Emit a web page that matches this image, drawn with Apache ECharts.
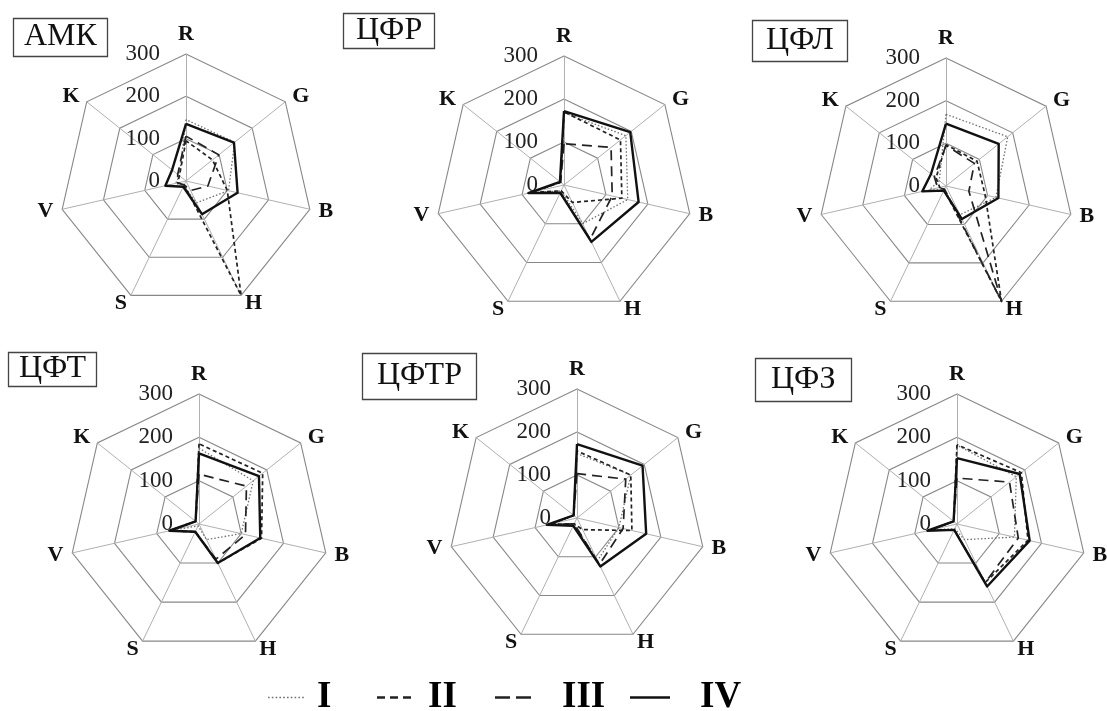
<!DOCTYPE html>
<html>
<head>
<meta charset="utf-8">
<script src="https://cdn.jsdelivr.net/npm/echarts@6/dist/echarts.min.js"></script>
<style>
  html, body { margin: 0; padding: 0; background: #fff; }
  #chart { width: 1107px; height: 711px; }
</style>
</head>
<body>
<div id="chart"></div>
<script>
// Colour-parameter axes, clockwise from the top
const axes = ['R', 'G', 'B', 'H', 'S', 'V', 'K'];
const axisMax = 300;
const tickLabels = ['0', '100', '200', '300'];
const classNames = ['I', 'II', 'III', 'IV'];
const panelNames = ['АМК', 'ЦФР', 'ЦФЛ', 'ЦФТ', 'ЦФТР', 'ЦФЗ'];

// Values per class, in axis order R, G, B, H, S, V, K
const amkI   = [145, 147, 103, 57, 12, 25, 20];
const amkII  = [95, 80, 100, 300, 10, 20, 20];
const amkIII = [106, 99, 53, 25, 10, 20, 25];
const amkIV  = [135, 145, 125, 87, 15, 50, 42];

const cfrI   = [168, 184, 152, 100, 15, 80, 10];
const cfrII  = [170, 168, 138, 45, 15, 80, 10];
const cfrIII = [96, 140, 115, 140, 20, 80, 10];
const cfrIV  = [172, 197, 178, 147, 20, 85, 12];

const cflI   = [168, 185, 120, 75, 10, 40, 20];
const cflII  = [97, 93, 94, 300, 10, 15, 30];
const cflIII = [95, 85, 55, 300, 8, 20, 35];
const cflIV  = [146, 158, 126, 86, 12, 57, 45];

const cftI   = [175, 160, 100, 40, 5, 70, 10];
const cftII  = [185, 188, 148, 100, 20, 70, 10];
const cftIII = [115, 140, 110, 90, 20, 70, 10];
const cftIV  = [163, 177, 145, 100, 20, 70, 10];

const cftrI   = [150, 160, 100, 110, 15, 60, 10];
const cftrII  = [156, 160, 131, 30, 15, 65, 10];
const cftrIII = [103, 145, 110, 120, 15, 65, 10];
const cftrIV  = [172, 195, 165, 125, 20, 72, 10];

const cfzI   = [182, 175, 136, 40, 12, 60, 10];
const cfzII  = [183, 190, 168, 150, 15, 65, 10];
const cfzIII = [106, 155, 145, 150, 15, 65, 10];
const cfzIV  = [152, 185, 172, 160, 15, 70, 10];

const panelValues = [
  [amkI, amkII, amkIII, amkIV],
  [cfrI, cfrII, cfrIII, cfrIV],
  [cflI, cflII, cflIII, cflIV],
  [cftI, cftII, cftIII, cftIV],
  [cftrI, cftrII, cftrIII, cftrIV],
  [cfzI, cfzII, cfzIII, cfzIV]
];

// ECharts places radar indicators counter-clockwise, so feed them
// in reverse (after R) to get R, G, B, ... running clockwise.
const drawOrder = [0, 6, 5, 4, 3, 2, 1];

// ---- layout & styling ----
const SERIF = 'Liberation Serif, Times New Roman, serif';
const panelLayout = [
  { center: [186, 181], radius: 127, title: { left: 13, top: 18, padding: [3, 11, 4, 11] } },
  { center: [564, 185], radius: 129, title: { left: 343, top: 13, padding: [2, 13, 2, 13] } },
  { center: [946, 186], radius: 128, title: { left: 752, top: 20, padding: [5, 14, 5, 14] } },
  { center: [199, 524], radius: 130, title: { left: 8, top: 352, padding: [1, 11, 2, 11] } },
  { center: [577, 518], radius: 129, title: { left: 362, top: 353, padding: [7, 15, 8, 15] } },
  { center: [957, 524], radius: 130, title: { left: 755, top: 358, padding: [6, 16, 6, 16] } }
];

const classStyles = [
  { color: '#6f6f6f', width: 1.3, type: [1.5, 2] },
  { color: '#222', width: 1.7, type: [4, 3] },
  { color: '#222', width: 1.7, type: [10, 6] },
  { color: '#111', width: 2.4, type: 'solid' }
];

function dashPath(len, gap, count, h) {
  let d = 'path://';
  for (let i = 0; i < count; i++) {
    const x = i * (len + gap);
    d += 'M' + x + ' 0h' + len + 'v' + h + 'h-' + len + 'z';
  }
  return d;
}

const legendSpec = [
  { left: 268, icon: dashPath(1.6, 2.2, 10, 1.6), w: 36.2, h: 1.6, gap: 8 },
  { left: 377, icon: dashPath(8, 5, 3, 2.5), w: 34, h: 2.5, gap: 12 },
  { left: 495, icon: dashPath(15, 6, 2, 2.5), w: 36, h: 2.5, gap: 26 },
  { left: 630, icon: dashPath(40, 0, 1, 2.5), w: 40, h: 2.5, gap: 25 }
];

const radars = panelLayout.map(p => ({
  center: p.center,
  radius: p.radius,
  startAngle: 90,
  shape: 'polygon',
  splitNumber: 3,
  indicator: drawOrder.map(i => ({
    name: axes[i], min: 0, max: axisMax,
    axisLabel: { show: i === 0 }
  })),
  nameGap: 9,
  axisName: {
    color: '#111', fontFamily: SERIF, fontWeight: 'bold', fontSize: 22
  },
  axisLabel: {
    show: false,
    fontFamily: SERIF, fontSize: 23, color: '#222', margin: 26,
    padding: [9, 0, 0, 0],
    formatter: v => tickLabels[Math.round(v / 100)]
  },
  axisTick: { show: false },
  axisLine: { lineStyle: { color: '#b0b0b0', width: 1 } },
  splitLine: { lineStyle: { color: '#888', width: 1.1 } },
  splitArea: { show: false }
}));

const titles = panelLayout.map((p, k) => ({
  text: panelNames[k],
  left: p.title.left,
  top: p.title.top,
  padding: p.title.padding,
  borderColor: '#444',
  borderWidth: 1.3,
  textStyle: {
    fontFamily: SERIF, fontSize: 32, fontWeight: 'normal', color: '#111', lineHeight: 32
  }
}));

const series = panelValues.map((vals, k) => ({
  type: 'radar',
  radarIndex: k,
  symbol: 'none',
  data: vals.map((v, j) => ({
    name: classNames[j],
    value: drawOrder.map(i => v[i]),
    lineStyle: classStyles[j],
    itemStyle: { color: classStyles[j].color }
  }))
}));

const legends = legendSpec.map((s, j) => ({
  data: [{ name: classNames[j], icon: s.icon }],
  left: s.left,
  top: 679,
  padding: 0,
  itemWidth: s.w,
  itemHeight: s.h,
  selectedMode: false,
  textStyle: {
    fontFamily: SERIF, fontSize: 37, fontWeight: 'bold', color: '#000',
    lineHeight: 36, padding: [0, 0, 0, s.gap]
  }
}));

const chart = echarts.init(document.getElementById('chart'), null, { renderer: 'canvas' });
chart.setOption({
  animation: false,
  backgroundColor: '#fff',
  title: titles,
  legend: legends,
  radar: radars,
  series: series
});
</script>
</body>
</html>
